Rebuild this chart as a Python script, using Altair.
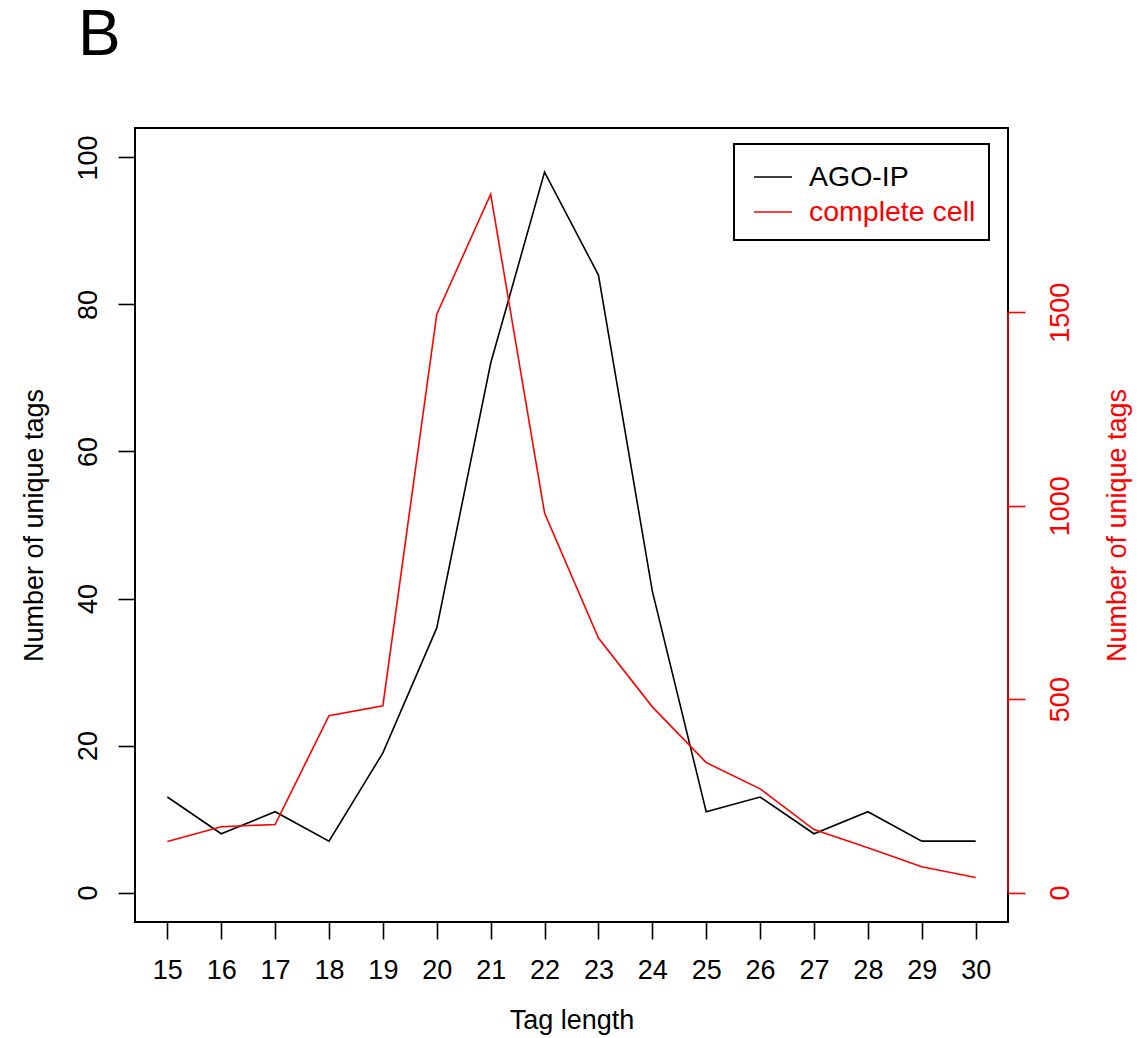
import altair as alt
import pandas as pd

# ---- data ----
tag_length = [15, 16, 17, 18, 19, 20, 21, 22, 23, 24, 25, 26, 27, 28, 29, 30]
ago_ip = [13, 8, 11, 7, 19, 36, 72, 98, 84, 41, 11, 13, 8, 11, 7, 7]
complete_cell = [132, 170, 176, 457, 483, 1495, 1805, 981, 658, 480, 336, 268, 163, 116, 67, 39]
series_names = ["AGO-IP", "complete cell"]
series_colors = ["black", "red"]
left_ticks = [0, 20, 40, 60, 80, 100]
right_ticks = [0, 500, 1000, 1500]
panel_label = ["B"]

df_ago = pd.DataFrame({"len": tag_length, "val": ago_ip, "series": series_names[0]})
df_cell = pd.DataFrame({"len": tag_length, "val": complete_cell, "series": series_names[1]})
df_axis = pd.DataFrame({"lo": [right_ticks[0]], "hi": [right_ticks[-1]]})
df_label = pd.DataFrame({"label": panel_label})

FONT = "Liberation Sans"
FS = 27
W, H = 873, 794
LW = 1.6

x_enc = alt.X(
    "len:Q",
    scale=alt.Scale(domain=[14.4, 30.6], nice=False, zero=False),
    axis=alt.Axis(
        values=tag_length, format="d", title="Tag length", grid=False, domain=False,
        tickSize=17, tickWidth=LW, labelPadding=18, labelFlush=False,
        titleY=106, titleBaseline="alphabetic",
    ),
)

color_enc = alt.Color(
    "series:N",
    scale=alt.Scale(domain=series_names, range=series_colors),
    legend=alt.Legend(
        title=None, orient="none", legendX=599, legendY=16,
        symbolType="stroke", symbolSize=1444, symbolStrokeWidth=LW,
        symbolOffset=6, labelOffset=16,
        labelFontSize=28.5, labelFont=FONT, labelLimit=500,
        labelColor={"expr": "datum.value == 'AGO-IP' ? 'black' : 'red'"},
        strokeColor="black", fillColor="white", padding=13, rowPadding=0,
    ),
)

black = alt.Chart(df_ago).mark_line(strokeWidth=LW).encode(
    x=x_enc,
    y=alt.Y(
        "val:Q",
        scale=alt.Scale(domain=[-4, 104], nice=False, zero=False),
        axis=alt.Axis(
            values=left_ticks, title="Number of unique tags", orient="left",
            grid=False, domain=False, tickSize=17, tickWidth=LW,
            labelAngle=270, labelAlign="center", labelBaseline="bottom", labelPadding=15.6,
            titleAngle=270, titleX=-93, titleY=397, titleAlign="center",
            titleBaseline="alphabetic",
        ),
    ),
    color=color_enc,
)

red = alt.Chart(df_cell).mark_line(strokeWidth=LW).encode(
    x=x_enc,
    y=alt.Y(
        "val:Q",
        scale=alt.Scale(domain=[-76, 1976], nice=False, zero=False),
        axis=alt.Axis(
            values=right_ticks, format="d", title="Number of unique tags", orient="right",
            grid=False, domain=False, tickSize=17, tickWidth=LW, tickColor="red",
            labelColor="red", titleColor="red",
            labelAngle=270, labelAlign="center", labelBaseline="top", labelPadding=22,
            titleAngle=270, titleX=117, titleY=397, titleAlign="center",
            titleBaseline="alphabetic",
        ),
    ),
    color=color_enc,
)

rule = alt.Chart(df_axis).mark_rule(color="red", strokeWidth=LW).encode(
    x=alt.value(W),
    y=alt.Y("lo:Q", scale=alt.Scale(domain=[-76, 1976], nice=False, zero=False), axis=None),
    y2="hi:Q",
)

label = alt.Chart(df_label).mark_text(
    fontSize=64, font=FONT, align="left", baseline="alphabetic", color="black"
).encode(text="label:N", x=alt.value(-57), y=alt.value(-73))

chart = (
    alt.layer(black, red, rule, label)
    .resolve_scale(y="independent")
    .properties(
        width=W, height=H,
        padding={"left": 135, "top": 128, "right": 138, "bottom": 116},
        autosize=alt.AutoSizeParams(type="none"),
        background="white",
    )
    .configure_view(stroke="black", strokeWidth=2)
    .configure_axis(
        labelFont=FONT, labelFontSize=FS, titleFont=FONT, titleFontSize=FS,
        titleFontWeight="normal", labelColor="black", tickColor="black", titleColor="black",
    )
    .configure_legend(strokeWidth=2)
)

chart.save("out.html", embed_options={"renderer": "svg", "actions": False})
